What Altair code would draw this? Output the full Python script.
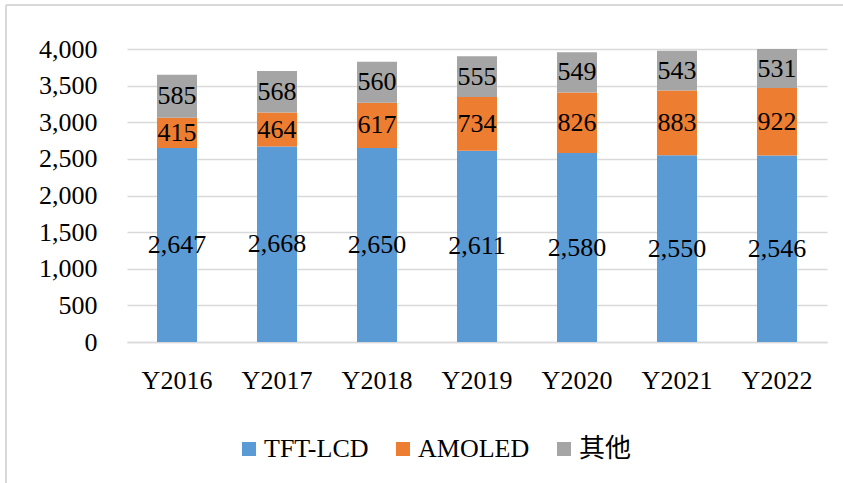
import altair as alt
import pandas as pd

years = ["Y2016", "Y2017", "Y2018", "Y2019", "Y2020", "Y2021", "Y2022"]
tft = [2647, 2668, 2650, 2611, 2580, 2550, 2546]
amoled = [415, 464, 617, 734, 826, 883, 922]
other = [585, 568, 560, 555, 549, 543, 531]
series = ["TFT-LCD", "AMOLED", "其他"]
colors = ["#5B9BD5", "#ED7D31", "#A5A5A5"]
y_ticks = [0, 500, 1000, 1500, 2000, 2500, 3000, 3500, 4000]

rows = []
for i, y in enumerate(years):
    for k, (s, vals) in enumerate(zip(series, [tft, amoled, other])):
        rows.append({"year": y, "series": s, "value": vals[i], "ord": k})
df = pd.DataFrame(rows)

FONT = "'Liberation Serif', 'Times New Roman', 'Noto Sans CJK SC', serif"

base = alt.Chart(df).transform_stack(
    stack="value", groupby=["year"], as_=["y0", "y1"], sort=[alt.SortField("ord")]
).transform_calculate(mid="(datum.y0 + datum.y1) / 2")

x_axis = alt.Axis(labelAngle=0, labelFont=FONT, labelFontSize=26, labelColor="#000",
                  labelPadding=25, ticks=False, domainColor="#d9d9d9", domainWidth=1.5)
y_axis = alt.Axis(values=y_ticks, format=",d", labelFont=FONT,
                  labelFontSize=26, labelColor="#000", labelPadding=30, ticks=False,
                  labelOverlap=False, domain=False, gridColor="#d9d9d9", gridWidth=1.5)
x_scale = alt.Scale(paddingInner=0.6, paddingOuter=0.3)
y_scale = alt.Scale(domain=[0, 4000])

bars = base.mark_bar().encode(
    x=alt.X("year:N", sort=years, title=None, scale=x_scale, axis=x_axis),
    y=alt.Y("y0:Q", title=None, scale=y_scale, axis=y_axis),
    y2="y1:Q",
    color=alt.Color("series:N", sort=series,
                    scale=alt.Scale(domain=series, range=colors),
                    legend=alt.Legend(title=None, orient="none", direction="horizontal",
                                      legendX=109, legendY=387, labelFont=FONT, labelFontSize=26,
                                      labelColor="#000", symbolType="square", symbolSize=196,
                                      symbolStrokeWidth=0, columnPadding=21, labelOffset=2)),
)

labels = base.mark_text(font=FONT, fontSize=26, color="#000").encode(
    x=alt.X("year:N", sort=years, title=None, scale=x_scale, axis=x_axis),
    y=alt.Y("mid:Q", title=None, scale=y_scale, axis=y_axis),
    text=alt.Text("value:Q", format=",d"),
)

border = alt.Chart(df).mark_rule(color="#d9d9d9", strokeWidth=2).encode(
    x=alt.value(-121), x2=alt.value(-121), y=alt.value(-44), y2=alt.value(450)
)
border_top = alt.Chart(df).mark_rule(color="#d9d9d9", strokeWidth=2).encode(
    x=alt.value(-121), x2=alt.value(730), y=alt.value(-44)
)

chart = alt.layer(bars, labels, border, border_top).properties(
    width=700, height=293,
    padding={"left": 127, "top": 49, "right": 16, "bottom": 141},
    autosize=alt.AutoSizeParams(type="none"),
    background="white",
).configure_view(stroke=None)

chart.save("out.html", embed_options={"renderer": "svg", "actions": False})
